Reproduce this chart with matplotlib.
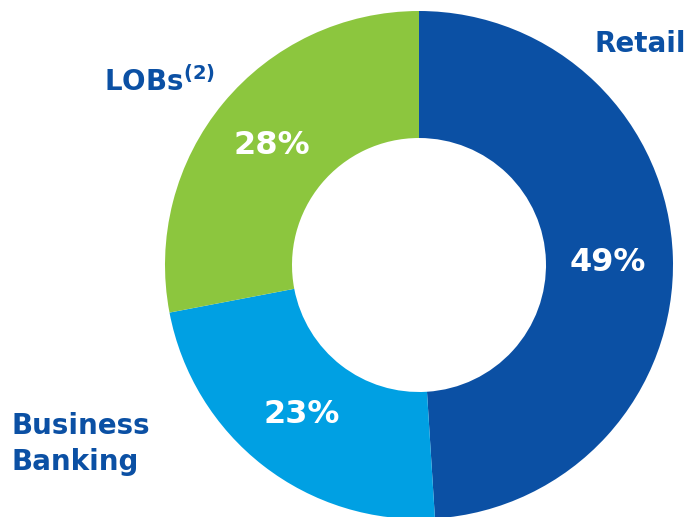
import matplotlib
matplotlib.use('Agg')
import matplotlib.pyplot as plt

# === Données ===
segments = ["Retail", "Business\nBanking", "LOBs"]
parts = [49, 23, 28]
couleurs = ["#0b50a4", "#00a0e3", "#8cc63e"]
bleu_texte = "#0b50a4"

fig = plt.figure(figsize=(6.86, 5.17), dpi=100)
# axe carré centré sur le donut (centre ~ (419, 265) px, rayon ~254 px)
ax = fig.add_axes([165 / 686, -2 / 517, 508 / 686, 508 / 517])

wedges, _ = ax.pie(parts, colors=couleurs, startangle=90, counterclock=False,
                   radius=1, wedgeprops=dict(width=0.5, edgecolor='none'))
ax.set_xlim(-1, 1)
ax.set_ylim(-1, 1)
ax.set_aspect('equal')
ax.axis('off')

# pourcentages au milieu de l'anneau
pos_pct = [(0.745, 0.01), (-0.46, -0.59), (-0.58, 0.47)]
for (x, y), p in zip(pos_pct, parts):
    ax.text(x, y, f"{p}%", color="white", fontsize=23, fontweight="bold",
            ha="center", va="center")

police = dict(color=bleu_texte, fontsize=20, fontweight="bold", family="DejaVu Sans")
fig.text(686 / 686, 1 - 44 / 517, segments[0], ha="right", va="center", **police)
fig.text(12 / 686, 1 - 444 / 517, segments[1], ha="left", va="center",
         linespacing=1.4, **police)
fig.text(104 / 686, 1 - 82 / 517, segments[2] + r"$^{\mathbf{(2)}}$", ha="left",
         va="center", **police)

fig.savefig("out.png", dpi=100)
